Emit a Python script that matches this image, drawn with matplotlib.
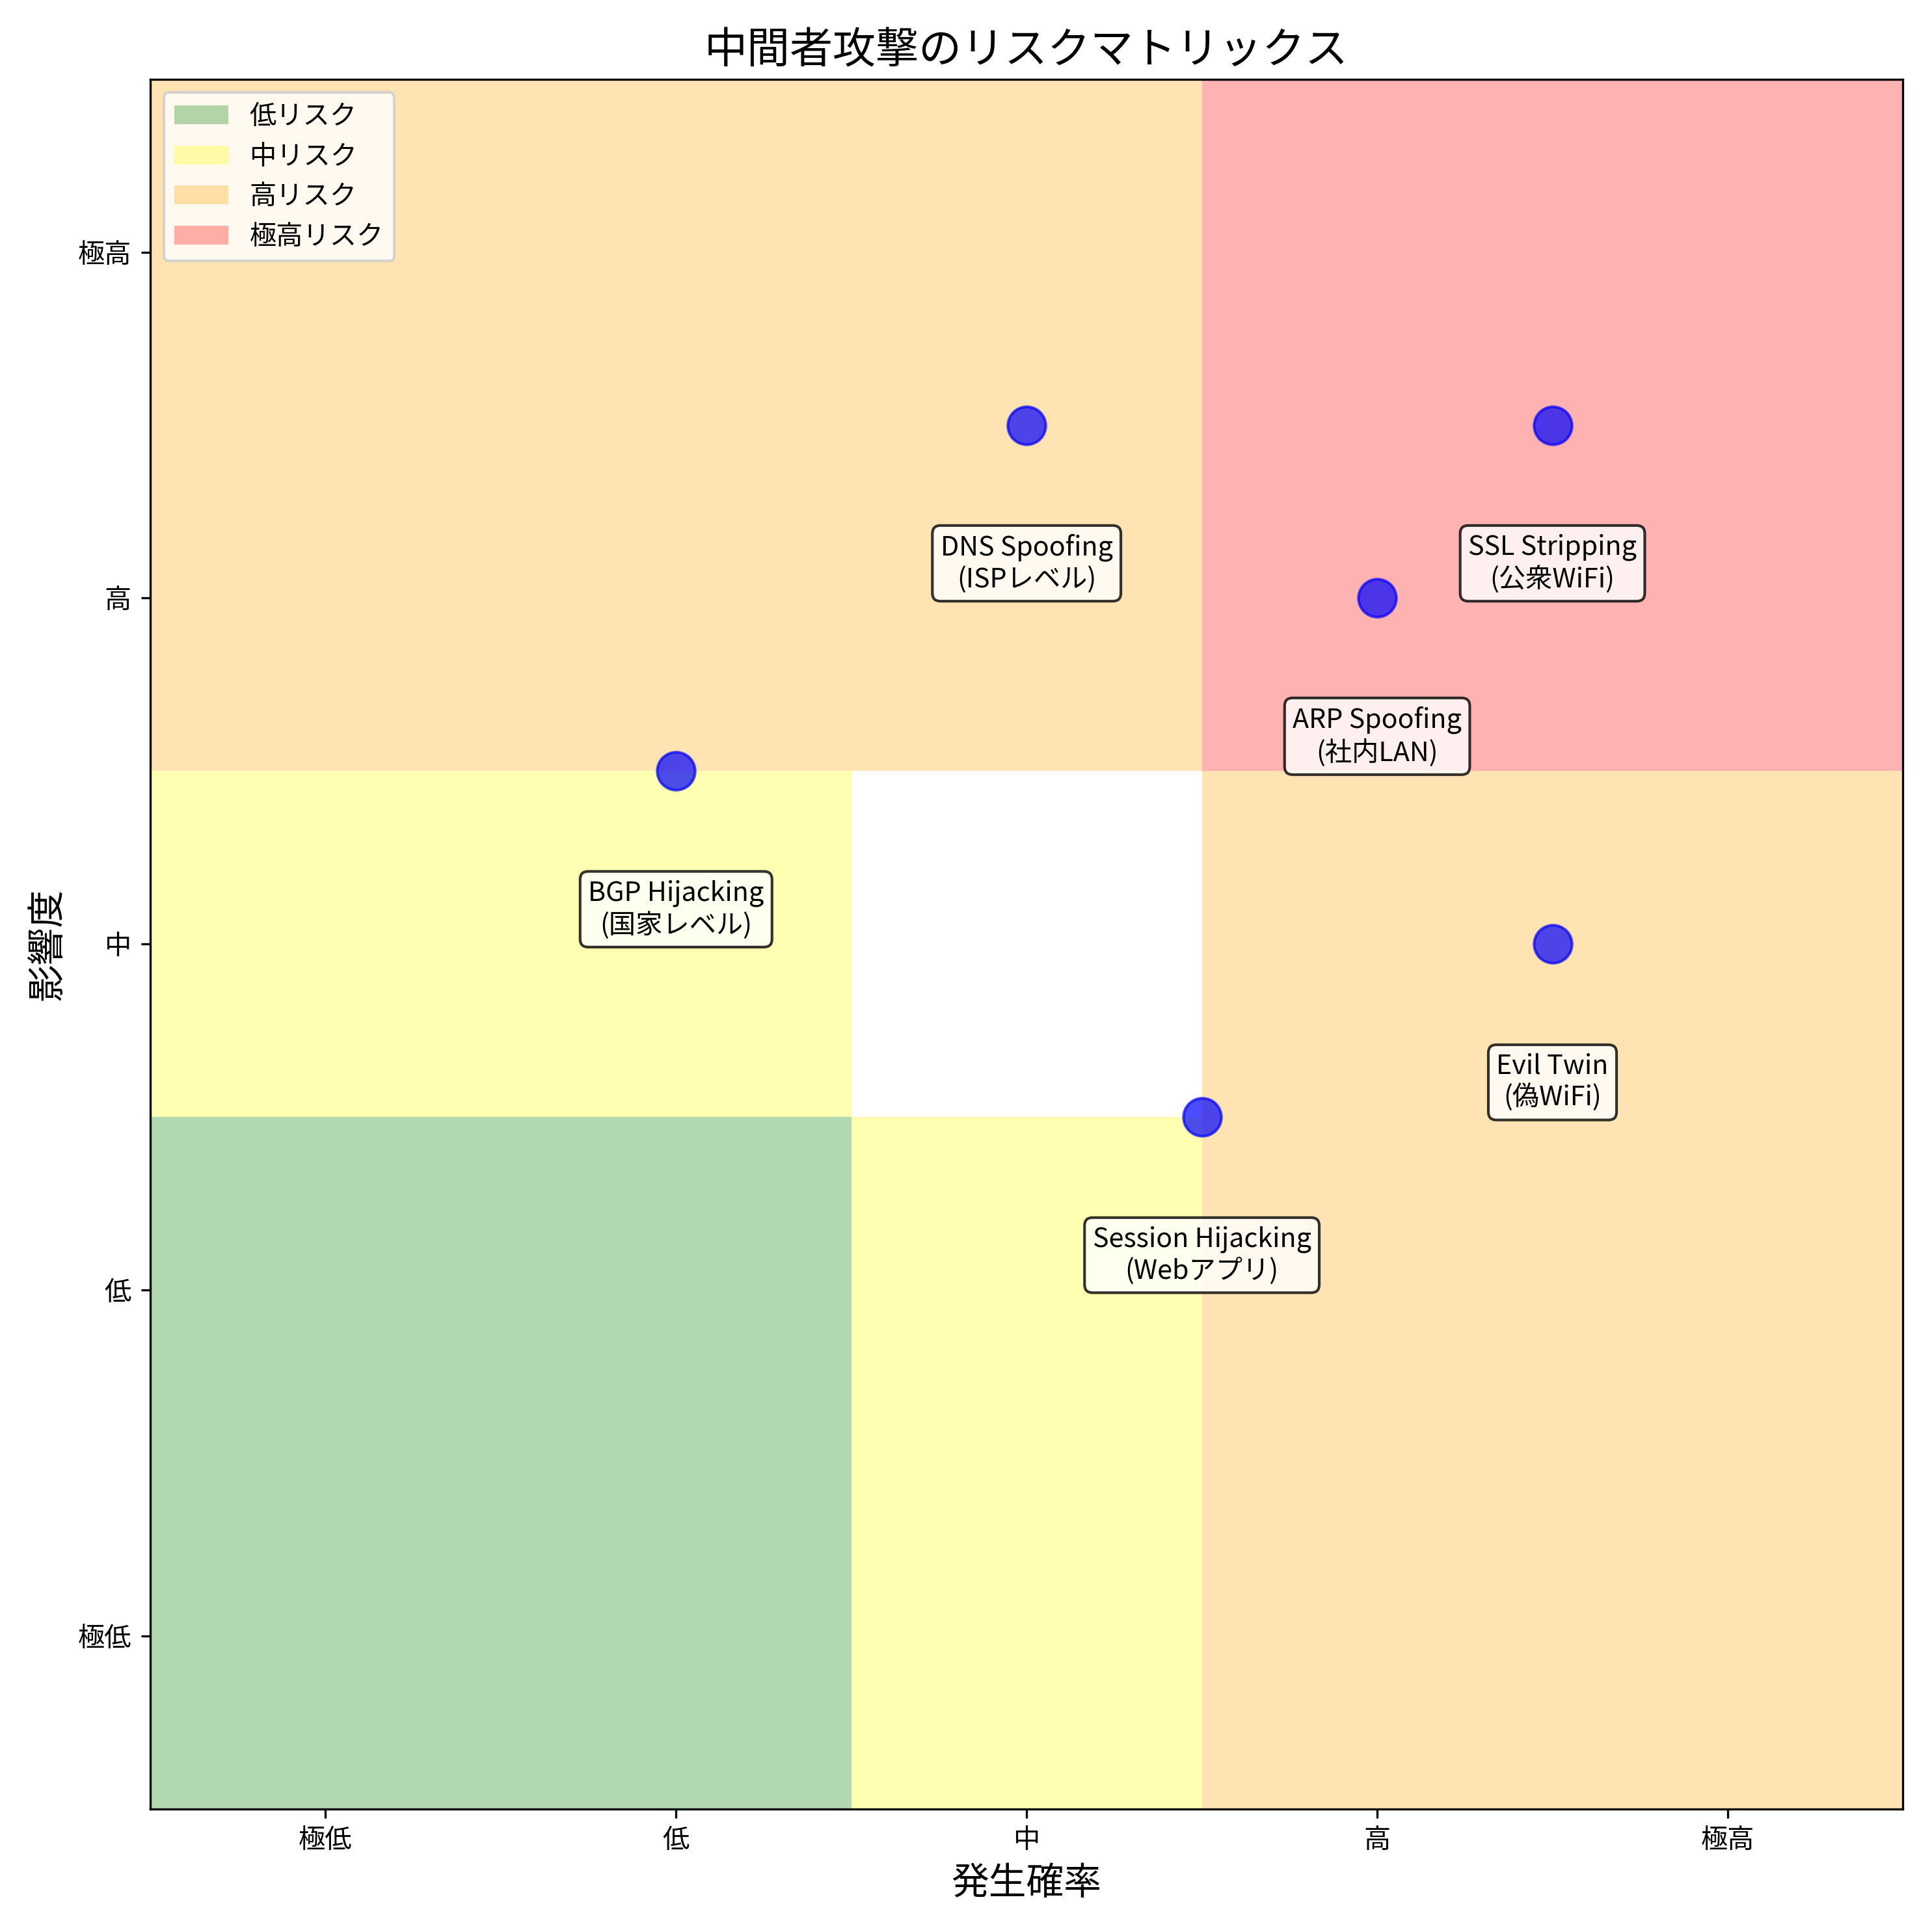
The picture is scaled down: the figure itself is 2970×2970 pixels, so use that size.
import matplotlib.pyplot as plt
from matplotlib.patches import Rectangle

plt.rcParams['font.family'] = 'Noto Sans CJK JP'

levels = ['極低', '低', '中', '高', '極高']
attacks = ['DNS Spoofing\n(ISPレベル)', 'SSL Stripping\n(公衆WiFi)', 'ARP Spoofing\n(社内LAN)',
           'BGP Hijacking\n(国家レベル)', 'Evil Twin\n(偽WiFi)', 'Session Hijacking\n(Webアプリ)']
prob = [3, 4.5, 4, 2, 4.5, 3.5]
impact = [4.5, 4.5, 4, 3.5, 3, 2.5]

# zones: (x0, y0, w, h, colour)
zones = [(0.5, 0.5, 2, 2, 'green'),
         (0.5, 2.5, 2, 1, 'yellow'), (2.5, 0.5, 1, 2, 'yellow'),
         (0.5, 3.5, 3, 2, 'orange'), (3.5, 0.5, 2, 3, 'orange'),
         (3.5, 3.5, 2, 2, 'red')]
legend_names = {'green': '低リスク', 'yellow': '中リスク', 'orange': '高リスク', 'red': '極高リスク'}

fig, ax = plt.subplots(figsize=(10, 10), dpi=297)
seen = set()
for x0, y0, w, h, c in zones:
    lab = legend_names[c] if c not in seen else None
    seen.add(c)
    ax.add_patch(Rectangle((x0, y0), w, h, color=c, alpha=0.3, label=lab, lw=0))

ax.scatter(prob, impact, s=200, c='blue', alpha=0.7, zorder=3)
for name, x, y in zip(attacks, prob, impact):
    ax.text(x, y - 0.4, name, ha='center', va='center', fontsize=10,
            bbox=dict(boxstyle='round,pad=0.3', fc='white', ec='black', alpha=0.8))

ax.set_xlim(0.5, 5.5)
ax.set_ylim(0.5, 5.5)
ax.set_xticks(range(1, 6))
ax.set_xticklabels(levels)
ax.set_yticks(range(1, 6))
ax.set_yticklabels(levels)
ax.set_xlabel('発生確率', fontsize=14)
ax.set_ylabel('影響度', fontsize=14)
ax.set_title('中間者攻撃のリスクマトリックス', fontsize=16)
ax.legend(loc='upper left')
plt.tight_layout()
plt.savefig('out.png')
